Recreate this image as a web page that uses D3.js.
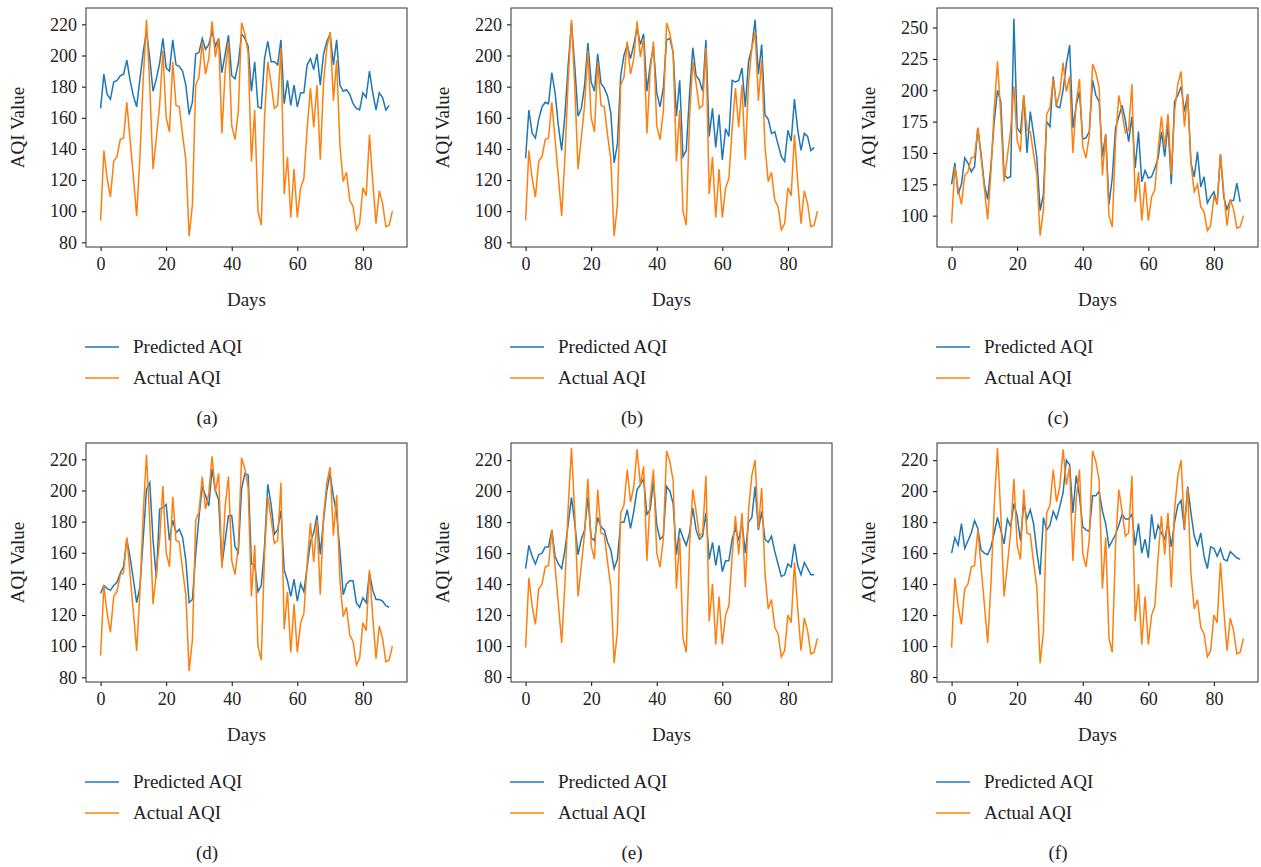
<!DOCTYPE html>
<html>
<head>
<meta charset="utf-8">
<script src="https://cdn.jsdelivr.net/npm/d3@7"></script>
<style>
  body { margin: 0; background: #fff; }
  text { font-family: "Liberation Serif", "Times New Roman", serif; fill: #222; }
</style>
</head>
<body>
<svg id="chart" width="1261" height="867"></svg>
<script>
// actual AQI (panels a-d)
const actualAD = [94, 139, 121, 109, 132, 135, 146, 147, 170, 146,
  122, 97, 135, 185, 223, 180, 127, 147, 168, 203,
  160, 151, 196, 168, 167, 149, 133, 84, 104, 181,
  186, 209, 188, 198, 222, 199, 211, 150, 190, 209,
  155, 146, 164, 221, 214, 202, 132, 165, 100, 91,
  160, 196, 182, 166, 168, 205, 111, 135, 96, 127,
  96, 115, 121, 153, 179, 154, 181, 133, 183, 205,
  215, 171, 197, 142, 119, 125, 107, 103, 88, 92,
  115, 110, 149, 119, 92, 113, 105, 90, 91, 100];

// actual AQI as plotted in panels e-f
const actualEF = [99, 144, 126, 114, 137, 140, 151, 152, 175, 151,
  127, 102, 140, 190, 228, 185, 132, 152, 173, 208,
  165, 156, 201, 173, 172, 154, 138, 89, 109, 186,
  191, 214, 193, 203, 227, 204, 216, 155, 195, 214,
  160, 151, 169, 226, 219, 207, 137, 170, 105, 96,
  165, 201, 187, 171, 173, 210, 116, 140, 101, 132,
  101, 120, 126, 158, 184, 159, 186, 138, 188, 210,
  220, 176, 202, 147, 124, 130, 112, 108, 93, 97,
  120, 115, 154, 124, 97, 118, 110, 95, 96, 105];

// predicted AQI per model
const predA = [166, 188, 175, 172, 183, 184, 187, 188, 197, 184,
  174, 167, 185, 202, 216, 198, 177, 185, 195, 211,
  192, 190, 210, 194, 193, 190, 181, 162, 170, 201,
  202, 211, 204, 207, 216, 206, 211, 189, 201, 213,
  187, 185, 195, 214, 211, 206, 177, 196, 167, 166,
  198, 209, 196, 196, 194, 210, 169, 184, 168, 181,
  167, 176, 176, 194, 198, 191, 201, 181, 201, 209,
  214, 194, 210, 181, 177, 178, 175, 169, 166, 165,
  176, 173, 190, 176, 165, 176, 173, 165, 168];

const predB = [134, 165, 150, 147, 159, 167, 170, 169, 189, 176,
  155, 139, 162, 194, 221, 193, 161, 166, 181, 208,
  183, 177, 201, 182, 179, 174, 163, 131, 143, 187,
  200, 207, 198, 207, 218, 207, 214, 177, 194, 206,
  176, 167, 179, 210, 211, 202, 161, 184, 135, 139,
  175, 205, 187, 184, 177, 210, 148, 166, 141, 162,
  133, 153, 148, 184, 183, 184, 192, 167, 196, 205,
  223, 188, 207, 162, 159, 150, 151, 143, 135, 132,
  152, 145, 172, 152, 139, 150, 148, 139, 141];

const predC = [125, 142, 117, 125, 146, 142, 135, 139, 170, 149,
  125, 113, 140, 175, 200, 191, 133, 130, 131, 257,
  170, 166, 196, 150, 183, 165, 146, 104, 117, 175,
  171, 211, 187, 186, 200, 221, 236, 170, 188, 199,
  161, 162, 167, 208, 196, 191, 147, 165, 109, 130,
  170, 179, 188, 176, 159, 179, 138, 167, 127, 136,
  130, 131, 138, 146, 167, 147, 173, 125, 191, 196,
  203, 183, 197, 142, 131, 151, 123, 131, 110, 115,
  119, 109, 149, 115, 105, 112, 112, 126, 111];

const predD = [134, 139, 137, 136, 139, 141, 147, 151, 169, 157,
  143, 128, 138, 169, 201, 205, 168, 144, 188, 189,
  191, 168, 181, 173, 175, 170, 155, 128, 130, 159,
  183, 202, 197, 190, 214, 200, 194, 152, 168, 184,
  184, 164, 160, 201, 211, 210, 153, 152, 135, 139,
  164, 204, 191, 172, 175, 187, 149, 142, 132, 143,
  129, 140, 135, 151, 167, 173, 184, 159, 181, 200,
  211, 196, 185, 161, 133, 140, 142, 142, 128, 125,
  131, 128, 147, 136, 130, 130, 129, 126, 125];

const predE = [150, 165, 158, 153, 159, 160, 164, 164, 175, 158,
  153, 150, 162, 179, 196, 179, 159, 169, 175, 196,
  170, 168, 183, 177, 175, 167, 162, 150, 156, 180,
  180, 188, 176, 187, 201, 204, 208, 185, 188, 207,
  178, 169, 171, 203, 200, 192, 159, 176, 170, 165,
  173, 189, 175, 169, 171, 186, 156, 167, 152, 165,
  148, 155, 155, 169, 176, 168, 180, 160, 180, 183,
  203, 175, 187, 169, 167, 171, 161, 153, 145, 146,
  153, 151, 166, 152, 146, 154, 150, 146, 146];

const predF = [160, 170, 165, 179, 163, 168, 173, 181, 176, 162,
  160, 159, 164, 173, 183, 175, 166, 182, 177, 192,
  184, 168, 192, 182, 188, 179, 161, 146, 183, 175,
  178, 187, 182, 190, 199, 220, 217, 186, 210, 197,
  177, 175, 174, 197, 197, 200, 187, 179, 164, 168,
  172, 178, 185, 182, 182, 185, 165, 179, 160, 169,
  157, 185, 169, 178, 173, 169, 180, 164, 180, 191,
  194, 175, 203, 186, 171, 165, 173, 158, 150, 164,
  163, 158, 163, 156, 155, 161, 159, 157, 156];

const captions = ["(a)", "(b)", "(c)", "(d)", "(e)", "(f)"];
const predictedSeries = [predA, predB, predC, predD, predE, predF];
const actualSeries = [actualAD, actualAD, actualAD, actualAD, actualEF, actualEF];
const xTicks = [0, 20, 40, 60, 80];
const yTicks20 = [80, 100, 120, 140, 160, 180, 200, 220];
const yTicks25 = [100, 125, 150, 175, 200, 225, 250];
const yTickSets = [yTicks20, yTicks20, yTicks25, yTicks20, yTicks20, yTicks20];
const yLimits = [[77, 230.5], [77, 230.5], [75, 265.6], [77, 230.5], [76.8, 231.1], [76.8, 231.1]];
const legendLabels = ["Predicted AQI", "Actual AQI"];

const BLUE = "#1f77b4", ORANGE = "#ff7f0e";
const colX = [86, 511, 937], rowY = [8, 443];
const W = 321, H = 239;

const svg = d3.select("#chart");

captions.forEach((cap, i) => {
  const x0 = colX[i % 3], y0 = rowY[Math.floor(i / 3)];
  const pred = predictedSeries[i], act = actualSeries[i];

  // matplotlib-style 5% margins on x
  const n = act.length - 1;
  const x = d3.scaleLinear().domain([-0.05 * n, n * 1.05]).range([x0, x0 + W]);
  const y = d3.scaleLinear().domain(yLimits[i]).range([y0 + H, y0]);

  const g = svg.append("g");

  g.append("g")
    .attr("transform", `translate(0,${y0 + H})`)
    .call(d3.axisBottom(x).tickValues(xTicks).tickSize(4).tickPadding(6))
    .call(a => a.select(".domain").remove())
    .call(a => a.selectAll("text").style("font-size", "18px").attr("fill", "#222"));

  g.append("g")
    .attr("transform", `translate(${x0},0)`)
    .call(d3.axisLeft(y).tickValues(yTickSets[i]).tickSize(4).tickPadding(5))
    .call(a => a.select(".domain").remove())
    .call(a => a.selectAll("text").style("font-size", "18px").attr("fill", "#222"));

  const line = d3.line().x((d, j) => x(j)).y(d => y(d));

  g.append("path").datum(pred)
    .attr("d", line).attr("fill", "none")
    .attr("stroke", BLUE).attr("stroke-width", 1.5);
  g.append("path").datum(act)
    .attr("d", line).attr("fill", "none")
    .attr("stroke", ORANGE).attr("stroke-width", 1.5);

  g.append("rect")
    .attr("x", x0).attr("y", y0).attr("width", W).attr("height", H)
    .attr("fill", "none").attr("stroke", "#333").attr("stroke-width", 1);

  // axis titles
  g.append("text")
    .attr("transform", `translate(${x0 - 62},${y0 + H / 2}) rotate(-90)`)
    .attr("text-anchor", "middle")
    .style("font-size", "19px")
    .text("AQI Value");
  g.append("text")
    .attr("x", x0 + W / 2).attr("y", y0 + 298)
    .attr("text-anchor", "middle")
    .style("font-size", "19px")
    .text("Days");

  // legend
  [BLUE, ORANGE].forEach((c, k) => {
    const ly = y0 + 339 + k * 31;
    g.append("line")
      .attr("x1", x0 - 1).attr("x2", x0 + 33)
      .attr("y1", ly).attr("y2", ly)
      .attr("stroke", c).attr("stroke-width", 1.5);
    g.append("text")
      .attr("x", x0 + 47).attr("y", ly + 6)
      .style("font-size", "19px")
      .text(legendLabels[k]);
  });

  g.append("text")
    .attr("x", x0 + 121).attr("y", y0 + 416)
    .attr("text-anchor", "middle")
    .style("font-size", "19px")
    .text(cap);
});
</script>
</body>
</html>
